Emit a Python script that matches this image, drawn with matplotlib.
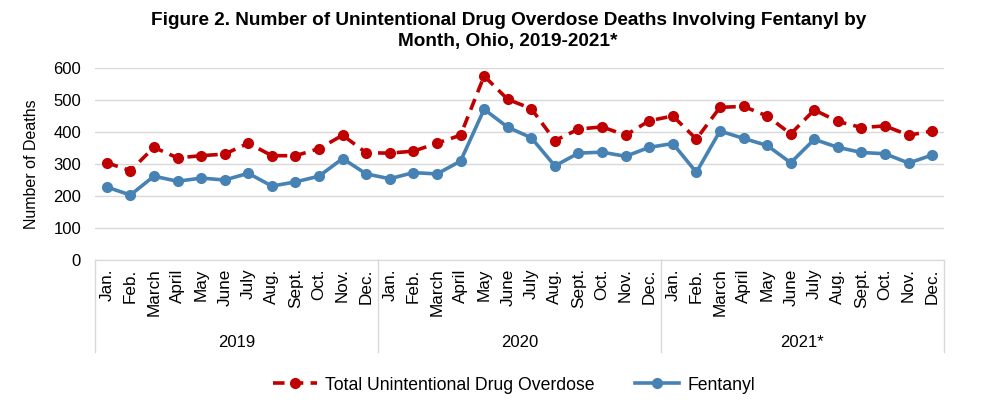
import matplotlib.pyplot as plt
from matplotlib import transforms

plt.rcParams['font.family'] = ['Liberation Sans', 'DejaVu Sans']

months = ['Jan.', 'Feb.', 'March', 'April', 'May', 'June', 'July', 'Aug.',
          'Sept.', 'Oct.', 'Nov.', 'Dec.']
years = ['2019', '2020', '2021*']

total = [304, 279, 352, 319, 326, 331, 365, 326, 326, 348, 390, 335,
         334, 340, 365, 390, 575, 502, 473, 373, 409, 416, 390, 435,
         450, 378, 477, 480, 450, 394, 469, 433, 414, 419, 390, 403]
fentanyl = [228, 203, 262, 246, 256, 250, 271, 231, 244, 262, 317, 269,
            254, 273, 269, 309, 471, 415, 382, 294, 334, 337, 324, 352,
            364, 274, 403, 380, 358, 304, 377, 352, 336, 332, 303, 328]

labels = months * len(years)
x = list(range(len(labels)))

red = '#C00000'
blue = '#4682B4'
grey = '#d9d9d9'

fig = plt.figure(figsize=(9.83, 4.13), dpi=100)
ax = fig.add_axes([95 / 983, 1 - 260 / 413, (944 - 95) / 983, 192 / 413])

ax.plot(x, total, color=red, lw=2.6, ls=(0, (3.2, 2)), marker='o', ms=7,
        label='Total Unintentional Drug Overdose')
ax.plot(x, fentanyl, color=blue, lw=2.6, marker='o', ms=7, label='Fentanyl')

ax.set_xlim(-0.5, len(labels) - 0.5)
ax.set_ylim(0, 600)
ax.set_yticks(range(0, 601, 100))
ax.yaxis.grid(True, color=grey, lw=1)
ax.set_axisbelow(True)
for s in ['top', 'right', 'left']:
    ax.spines[s].set_visible(False)
ax.spines['bottom'].set_color(grey)
ax.tick_params(axis='y', length=0, labelsize=12, pad=10)
ax.set_xticks(x, labels, rotation=90, fontsize=12.3)
ax.tick_params(axis='x', length=0, pad=6)
ax.set_ylabel('Number of Deaths', fontsize=11.5, labelpad=10)

# year group labels and separators
trans = transforms.blended_transform_factory(ax.transData, ax.transAxes)
for i, yr in enumerate(years):
    ax.text(i * 12 + 5.5, -0.432, yr, transform=trans, ha='center',
            va='center', fontsize=12)
for i in range(len(years) + 1):
    ax.plot([i * 12 - 0.5, i * 12 - 0.5], [0, -0.479], transform=trans,
            color=grey, lw=1, clip_on=False)

fig.text(0.517, 1 - 31 / 413,
         'Figure 2. Number of Unintentional Drug Overdose Deaths Involving Fentanyl by\nMonth, Ohio, 2019-2021*',
         ha='center', va='center', fontsize=13.7, fontweight='bold', linespacing=1.32)

fig.legend(loc='center', bbox_to_anchor=(0.523, 1 - 385 / 413), ncol=2,
           frameon=False, fontsize=12.7, handlelength=2.5, handletextpad=0.45,
           columnspacing=2.3)

fig.savefig('out.png', dpi=100)
